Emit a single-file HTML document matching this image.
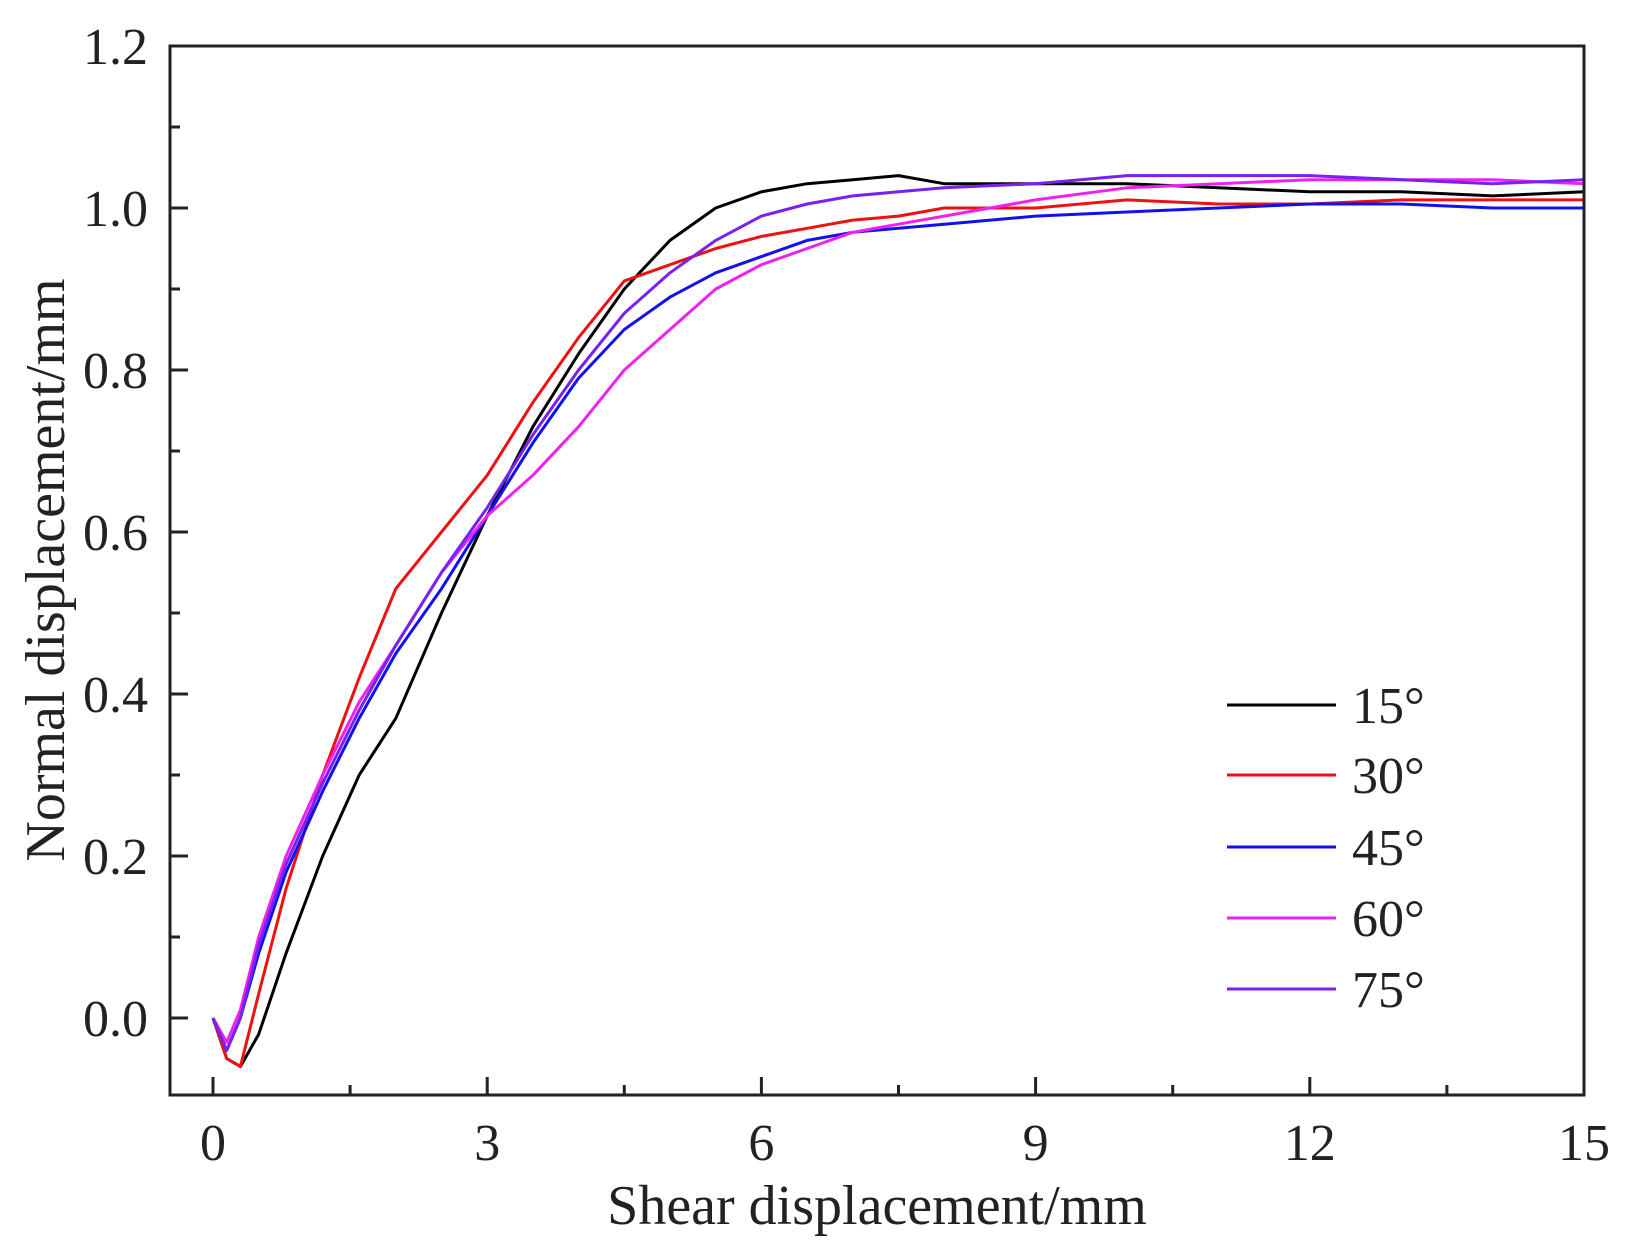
<!DOCTYPE html>
<html><head><meta charset="utf-8"><style>
html,body{margin:0;padding:0;background:#fff;}
svg{display:block;font-family:"Liberation Serif",serif;}
</style></head><body>
<svg id="chart" width="1630" height="1255" viewBox="0 0 1630 1255" xmlns="http://www.w3.org/2000/svg"></svg>
<script>
const xs = [0,0.15,0.3,0.5,0.8,1.2,1.6,2,2.5,3,3.5,4,4.5,5,5.5,6,6.5,7,7.5,8,9,10,11,12,13,14,15];
const seriesLabels = ["15°","30°","45°","60°","75°"];
const s15 = [0,-0.05,-0.06,-0.02,0.08,0.2,0.3,0.37,0.5,0.62,0.73,0.82,0.9,0.96,1.0,1.02,1.03,1.035,1.04,1.03,1.03,1.03,1.025,1.02,1.02,1.015,1.02];
const s30 = [0,-0.05,-0.06,0.03,0.16,0.3,0.42,0.53,0.6,0.67,0.76,0.84,0.91,0.93,0.95,0.965,0.975,0.985,0.99,1.0,1.0,1.01,1.005,1.005,1.01,1.01,1.01];
const s45 = [0,-0.04,0.0,0.08,0.18,0.28,0.37,0.45,0.53,0.62,0.71,0.79,0.85,0.89,0.92,0.94,0.96,0.97,0.975,0.98,0.99,0.995,1.0,1.005,1.005,1.0,1.0];
const s60 = [0,-0.03,0.01,0.1,0.2,0.3,0.39,0.46,0.55,0.62,0.67,0.73,0.8,0.85,0.9,0.93,0.95,0.97,0.98,0.99,1.01,1.025,1.03,1.035,1.035,1.035,1.03];
const s75 = [0,-0.04,0.0,0.09,0.19,0.29,0.38,0.46,0.55,0.63,0.72,0.8,0.87,0.92,0.96,0.99,1.005,1.015,1.02,1.025,1.03,1.04,1.04,1.04,1.035,1.03,1.035];
const colors = ["#000000","#ee1111","#1111ee","#ee22ee","#7722ee"];
const xTicks = [0,3,6,9,12,15];
const yTicks = [0.0,0.2,0.4,0.6,0.8,1.0,1.2];

const NS="http://www.w3.org/2000/svg";
const svg=document.getElementById('chart');
const L=170,R=1584,T=46,B=1095;
const X=v=>213+v*91.4;
const Y=v=>1018-v*810;
function mk(tag,attrs,parent){const e=document.createElementNS(NS,tag);for(const k in attrs)e.setAttribute(k,attrs[k]);(parent||svg).appendChild(e);return e;}

const all=[s15,s30,s45,s60,s75];
all.forEach((s,i)=>{
  const p=mk('polyline',{points:s.map((v,j)=>X(xs[j]).toFixed(1)+','+Y(v).toFixed(1)).join(' '),fill:'none',stroke:colors[i],'stroke-width':3,'stroke-linejoin':'round'});
  
  
});

const frame=mk('rect',{x:L,y:T,width:R-L,height:B-T,fill:'none',stroke:'#222','stroke-width':3});



xTicks.forEach(t=>{
  mk('line',{x1:X(t),x2:X(t),y1:B,y2:B-18,stroke:'#222','stroke-width':3});
  const tx=mk('text',{x:X(t),y:1160,'font-size':52,'text-anchor':'middle',fill:'#222'});
  tx.textContent=t;
  
  
});
for(let t=1.5;t<15;t+=3){mk('line',{x1:X(t),x2:X(t),y1:B,y2:B-10,stroke:'#222','stroke-width':3});}
yTicks.forEach(t=>{
  mk('line',{x1:L,x2:L+18,y1:Y(t),y2:Y(t),stroke:'#222','stroke-width':3});
  const tx=mk('text',{x:148,y:Y(t)+18,'font-size':52,'text-anchor':'end',fill:'#222'});
  tx.textContent=t.toFixed(1);
  
  
});
for(let t=0.1;t<1.2;t+=0.2){mk('line',{x1:L,x2:L+10,y1:Y(t),y2:Y(t),stroke:'#222','stroke-width':3});}

const xt=mk('text',{x:877,y:1224,'font-size':56,'text-anchor':'middle',fill:'#222'});
xt.textContent='Shear displacement/mm';


const yt=mk('text',{x:0,y:0,'font-size':56,'text-anchor':'middle',fill:'#222',transform:'translate(64,570) rotate(-90)'});
yt.textContent='Normal displacement/mm';



const legY=[705,775,847,918,989];
seriesLabels.forEach((lab,i)=>{
  const g=mk('g',{});
  
  
  mk('line',{x1:1227,x2:1336,y1:legY[i],y2:legY[i],stroke:colors[i],'stroke-width':3},g);
  const t=mk('text',{x:1352,y:legY[i]+18,'font-size':52,fill:'#222'},g);
  t.textContent=lab;
});
</script>
</body></html>
